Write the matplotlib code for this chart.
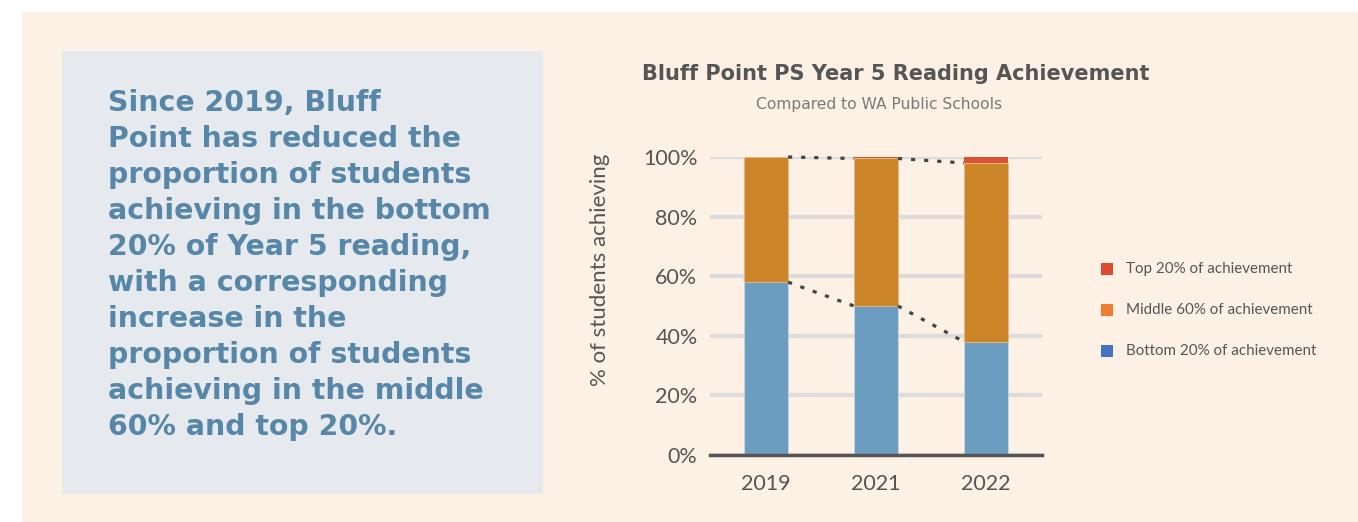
import numpy as np
import matplotlib.pyplot as plt
from matplotlib.patches import Rectangle

years = ["2019", "2021", "2022"]
bottom20 = [58, 50, 38]
middle60 = [42, 49.5, 60]
top20 = [0, 0.5, 2]

legend_labels = ["Top 20% of achievement", "Middle 60% of achievement", "Bottom 20% of achievement"]
yticks = [0, 20, 40, 60, 80, 100]

summary_lines = [
    "Since 2019, Bluff",
    "Point has reduced the",
    "proportion of students",
    "achieving in the bottom",
    "20% of Year 5 reading,",
    "with a corresponding",
    "increase in the",
    "proportion of students",
    "achieving in the middle",
    "60% and top 20%.",
]

BAR_BLUE = "#6b9dc0"
BAR_ORANGE = "#cd852a"
BAR_RED = "#dd5030"
LEG_COLORS = ["#dd4b2e", "#ed7d31", "#4472c4"]
PEACH = "#fdf0e4"
GREY_BOX = "#e6e9ee"
TEXT_BLUE = "#5687a8"
DARK = "#555555"

W, H = 1358, 522
fig = plt.figure(figsize=(W / 100, H / 100), dpi=100)
fig.patch.set_facecolor("white")


def fx(px):
    return px / W


def fy(py):
    return 1 - py / H


# background panels
fig.patches.append(Rectangle((fx(22), fy(522)), fx(1336), 510 / H, transform=fig.transFigure,
                             facecolor=PEACH, edgecolor="none", zorder=-10))
fig.patches.append(Rectangle((fx(62), fy(494)), fx(481), 443 / H, transform=fig.transFigure,
                             facecolor=GREY_BOX, edgecolor="none", zorder=-9))

# summary text
for i, line in enumerate(summary_lines):
    fig.text(fx(108), fy(103 + i * 36), line, fontsize=20.4, fontweight="bold",
             family="DejaVu Sans", color=TEXT_BLUE, va="center", ha="left")

# chart
ax = fig.add_axes([fx(710), fy(455), fx(332), (455 - 157) / H])
ax.set_zorder(2)
ax.set_facecolor("none")
x = np.arange(len(years))
bw = 0.4
ax.bar(x, bottom20, bw, color=BAR_BLUE, edgecolor="#c9d8e4", linewidth=0.6, zorder=3)
ax.bar(x, middle60, bw, bottom=bottom20, color=BAR_ORANGE, edgecolor="#e8b98a", linewidth=0.6, zorder=3)
ax.bar(x, top20, bw, bottom=np.add(bottom20, middle60), color=BAR_RED, edgecolor="none", zorder=3)

# dotted connectors
b = np.array(bottom20, dtype=float)
mtop = b + np.array(middle60)
for i in range(len(years) - 1):
    for ys in (b, mtop):
        ax.plot([x[i] + bw / 2, x[i + 1] - bw / 2], [ys[i], ys[i + 1]], ls=(0, (1.3, 2.8)),
                color="#444444", lw=2.3, dash_capstyle="butt", zorder=4, clip_on=False)

ax.set_xlim(-0.51, 2.51)
ax.set_ylim(0, 100)
ax.set_yticks(yticks)
ax.set_yticklabels([f"{v}%" for v in yticks], family="Lato", fontsize=15.5, color=DARK)
ax.set_xticks(x)
ax.set_xticklabels(years, family="Lato", fontsize=15.5, color=DARK)
ax.tick_params(axis="y", length=0, pad=9)
ax.tick_params(axis="x", length=0, pad=14)
ax.grid(axis="y", color="#dcdcdc", lw=3, zorder=1)
ax.set_axisbelow(True)
for s in ["top", "right", "left"]:
    ax.spines[s].set_visible(False)
ax.spines["bottom"].set_color(DARK)
ax.spines["bottom"].set_linewidth(2.5)
ax.spines["bottom"].set_zorder(5)
ax.set_ylabel("% of students achieving", family="Lato", fontsize=16, color=DARK)
ax.yaxis.set_label_coords(-0.30, 0.62)

# titles
fig.text(fx(896), fy(74), "Bluff Point PS Year 5 Reading Achievement", fontsize=15,
         fontweight="bold", family="DejaVu Sans", color=DARK, ha="center", va="center")
fig.text(fx(879), fy(104), "Compared to WA Public Schools", fontsize=11.2,
         family="DejaVu Sans", color="#7a7a7a", ha="center", va="center")

# legend
for i, (lab, c) in enumerate(zip(legend_labels, LEG_COLORS)):
    yy = 269 + i * 41
    fig.patches.append(Rectangle((fx(1101), fy(yy + 6)), fx(12), 12 / H, transform=fig.transFigure,
                                 facecolor=c, edgecolor="none"))
    fig.text(fx(1126), fy(yy), lab, fontsize=10.9, family="Lato", color=DARK, va="center", ha="left")

fig.savefig("out.png", dpi=100, facecolor=fig.get_facecolor())
